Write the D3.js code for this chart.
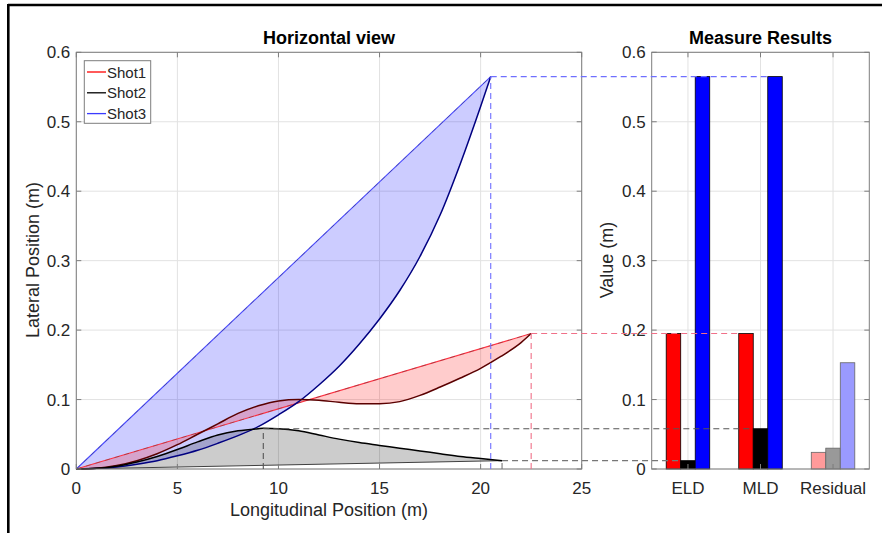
<!DOCTYPE html>
<html>
<head>
<meta charset="utf-8">
<script src="https://cdn.jsdelivr.net/npm/d3@7"></script>
<style>
  html, body { margin: 0; padding: 0; background: #fff; }
  svg { display: block; font-family: "Liberation Sans", Arial, Helvetica, sans-serif; }
</style>
</head>
<body>
<svg id="chart" width="882" height="533"></svg>
<script>
// Trajectories seen from above: longitudinal position (m) vs lateral position (m)
const shot1X = [0, 1, 2, 3, 4, 5, 6, 7, 8, 9, 10, 11, 12, 13, 14, 15, 16, 17, 18, 19, 20, 21, 22, 22.5];
const shot1Y = [0, 0.001, 0.005, 0.012, 0.022, 0.035, 0.050, 0.065, 0.080, 0.091, 0.098, 0.100, 0.099, 0.096, 0.094, 0.094, 0.097, 0.106, 0.118, 0.131, 0.145, 0.162, 0.182, 0.195];

const shot2X = [0, 1, 2, 3, 4, 5, 6, 7, 8, 9, 9.25, 10, 11, 12, 13, 14, 15, 16, 17, 18, 19, 20, 21.06];
const shot2Y = [0, 0.001, 0.004, 0.010, 0.018, 0.028, 0.039, 0.049, 0.055, 0.058, 0.0585, 0.058, 0.055, 0.049, 0.043, 0.038, 0.034, 0.030, 0.026, 0.022, 0.018, 0.015, 0.012];

const shot3X = [0, 1, 2, 3, 4, 5, 6, 7, 8, 9, 10, 11, 12, 13, 14, 15, 16, 17, 18, 19, 20, 20.5];
const shot3Y = [0, 0.001, 0.003, 0.007, 0.012, 0.019, 0.027, 0.037, 0.048, 0.061, 0.078, 0.097, 0.121, 0.148, 0.180, 0.216, 0.257, 0.306, 0.366, 0.440, 0.522, 0.565];

// Measure results per category: [Shot1, Shot2, Shot3]
const categories = ["ELD", "MLD", "Residual"];
const eldValues = [0.195, 0.012, 0.565];
const mldValues = [0.195, 0.058, 0.565];
const residualValues = [0.024, 0.030, 0.153];

const seriesNames = ["Shot1", "Shot2", "Shot3"];
const xTicks = [0, 5, 10, 15, 20, 25];
const yTicks = [0, 0.1, 0.2, 0.3, 0.4, 0.5, 0.6];

const svg = d3.select("#chart");
const FONT = 17;

// frame
svg.append("line").attr("x1", 8).attr("y1", 5).attr("x2", 882).attr("y2", 5)
  .attr("stroke", "#000").attr("stroke-width", 2.6);
svg.append("line").attr("x1", 8.3).attr("y1", 4).attr("x2", 8.3).attr("y2", 533)
  .attr("stroke", "#000").attr("stroke-width", 2.6);

// scales
const xL = d3.scaleLinear().domain([0, 25]).range([76.3, 581.7]);
const yS = d3.scaleLinear().domain([0, 0.6]).range([469, 52.3]);
const xR = d3.scaleLinear().domain([0.5, 3.5]).range([651.7, 869.3]);

const gridColor = "#e2e2e2";
const boxColor = "#7d7d7d";
const textColor = "#262626";
const TICK = 5;

function drawGrid(g, xs, xt, ys) {
  g.selectAll(".gx").data(xt).join("line")
    .attr("x1", d => xs(d)).attr("x2", d => xs(d))
    .attr("y1", ys.range()[0]).attr("y2", ys.range()[1])
    .attr("stroke", gridColor).attr("stroke-width", 1);
  g.selectAll(".gy").data(yTicks).join("line")
    .attr("x1", xs.range()[0]).attr("x2", xs.range()[1])
    .attr("y1", d => ys(d)).attr("y2", d => ys(d))
    .attr("stroke", gridColor).attr("stroke-width", 1);
}

function drawBox(g, xs, xt, xfmt) {
  const [x0, x1] = xs.range();
  const [y0, y1] = yS.range();
  g.append("rect").attr("x", x0).attr("y", y1).attr("width", x1 - x0).attr("height", y0 - y1)
    .attr("fill", "none").attr("stroke", boxColor).attr("stroke-width", 1);
  // ticks inward on all four sides
  xt.forEach(t => {
    const x = xs(t);
    g.append("line").attr("x1", x).attr("x2", x).attr("y1", y0).attr("y2", y0 - TICK).attr("stroke", boxColor);
    g.append("line").attr("x1", x).attr("x2", x).attr("y1", y1).attr("y2", y1 + TICK).attr("stroke", boxColor);
  });
  yTicks.forEach(t => {
    const y = yS(t);
    g.append("line").attr("x1", x0).attr("x2", x0 + TICK).attr("y1", y).attr("y2", y).attr("stroke", boxColor);
    g.append("line").attr("x1", x1).attr("x2", x1 - TICK).attr("y1", y).attr("y2", y).attr("stroke", boxColor);
  });
  g.selectAll(".xl").data(xt).join("text")
    .attr("x", d => xs(d)).attr("y", y0 + 25)
    .attr("text-anchor", "middle").attr("font-size", FONT).attr("fill", textColor)
    .text(xfmt);
  g.selectAll(".yl").data(yTicks).join("text")
    .attr("x", x0 - 6).attr("y", d => yS(d) + 6)
    .attr("text-anchor", "end").attr("font-size", FONT).attr("fill", textColor)
    .text(d => d === 0 ? "0" : d3.format(".1f")(d));
}

// ---------- left panel: horizontal view ----------
const left = svg.append("g");
drawGrid(left, xL, xTicks, yS);

function pts(xs, ys) { return xs.map((x, i) => [x, ys[i]]); }
const s1 = pts(shot1X, shot1Y), s2 = pts(shot2X, shot2Y), s3 = pts(shot3X, shot3Y);

function chordFn(p) {
  const e = p[p.length - 1];
  return x => e[1] * x / e[0];
}

const area = (p) => {
  const c = chordFn(p);
  return d3.area().curve(d3.curveMonotoneX)
    .x(d => xL(d[0])).y0(d => yS(c(d[0]))).y1(d => yS(d[1]))(p);
};
const line = d3.line().curve(d3.curveMonotoneX).x(d => xL(d[0])).y(d => yS(d[1]));

// filled deviation regions between each path and its straight chord
left.append("path").attr("d", area(s3)).attr("fill", "#0000ff").attr("fill-opacity", 0.2);
left.append("path").attr("d", area(s1)).attr("fill", "#ff0000").attr("fill-opacity", 0.2);
left.append("path").attr("d", area(s2)).attr("fill", "#000000").attr("fill-opacity", 0.2);

// chords
function chord(p, color) {
  const e = p[p.length - 1];
  left.append("line").attr("x1", xL(0)).attr("y1", yS(0)).attr("x2", xL(e[0])).attr("y2", yS(e[1]))
    .attr("stroke", color).attr("stroke-width", 1.1);
  left.append("line").attr("x1", xL(0)).attr("y1", yS(0)).attr("x2", xL(e[0])).attr("y2", yS(e[1]))
    .attr("stroke", "#333").attr("stroke-width", 0.7).attr("stroke-opacity", 0.5)
    .attr("stroke-dasharray", "5,5");
}
chord(s3, "#4a4aff");
chord(s1, "#ff3040");
left.append("line").attr("x1", xL(0)).attr("y1", yS(0))
  .attr("x2", xL(shot2X[shot2X.length - 1])).attr("y2", yS(shot2Y[shot2Y.length - 1]))
  .attr("stroke", "#404040").attr("stroke-width", 1);

// trajectories
left.append("path").attr("d", line(s3)).attr("fill", "none").attr("stroke", "#000080").attr("stroke-width", 1.5);
left.append("path").attr("d", line(s1)).attr("fill", "none").attr("stroke", "#5a0000").attr("stroke-width", 1.5);
left.append("path").attr("d", line(s2)).attr("fill", "none").attr("stroke", "#000").attr("stroke-width", 1.5);

drawBox(left, xL, xTicks, d => d);

// titles and axis labels
svg.append("text").attr("x", (xL.range()[0] + xL.range()[1]) / 2).attr("y", 44)
  .attr("text-anchor", "middle").attr("font-size", 18).attr("font-weight", "bold").attr("fill", "#000")
  .text("Horizontal view");
svg.append("text").attr("x", (xL.range()[0] + xL.range()[1]) / 2).attr("y", 516)
  .attr("text-anchor", "middle").attr("font-size", 18).attr("fill", textColor)
  .text("Longitudinal Position (m)");
svg.append("text").attr("transform", "translate(39,260) rotate(-90)")
  .attr("text-anchor", "middle").attr("font-size", 18).attr("fill", textColor)
  .text("Lateral Position (m)");

// legend
const lg = svg.append("g");
lg.append("rect").attr("x", 84.3).attr("y", 60.7).attr("width", 66.4).attr("height", 62.6)
  .attr("fill", "#fff").attr("stroke", "#7d7d7d").attr("stroke-width", 1);
const legendColors = ["#ff0000", "#000000", "#3b3bff"];
seriesNames.forEach((n, i) => {
  const y = 72 + i * 20.8;
  lg.append("line").attr("x1", 87).attr("x2", 106).attr("y1", y).attr("y2", y)
    .attr("stroke", legendColors[i]).attr("stroke-width", 1.3);
  lg.append("text").attr("x", 107).attr("y", y + 5.5).attr("font-size", 15).attr("fill", textColor).text(n);
});

// ---------- right panel: measure results ----------
const right = svg.append("g");
drawGrid(right, xR, [1, 2, 3], yS);

const groups = [eldValues, mldValues, residualValues];
const barW = 0.2;
const offsets = [-0.2, 0, 0.2];
const barFill = [
  ["#ff0000", "#000000", "#0000ff"],
  ["#ff0000", "#000000", "#0000ff"],
  ["#ff9a9a", "#999999", "#9a9aff"]
];
const barEdge = ["#000", "#000", "#666"];

groups.forEach((vals, gi) => {
  vals.forEach((v, si) => {
    const cx = gi + 1 + offsets[si];
    right.append("rect")
      .attr("x", xR(cx - barW / 2)).attr("width", xR(cx + barW / 2) - xR(cx - barW / 2))
      .attr("y", yS(v)).attr("height", yS(0) - yS(v))
      .attr("fill", barFill[gi][si]).attr("stroke", barEdge[gi]).attr("stroke-width", 0.8);
  });
});

drawBox(right, xR, [1, 2, 3], d => categories[d - 1]);
svg.append("text").attr("x", (xR.range()[0] + xR.range()[1]) / 2).attr("y", 44)
  .attr("text-anchor", "middle").attr("font-size", 18).attr("font-weight", "bold").attr("fill", "#000")
  .text("Measure Results");
svg.append("text").attr("transform", "translate(613,260) rotate(-90)")
  .attr("text-anchor", "middle").attr("font-size", 18).attr("fill", textColor)
  .text("Value (m)");

// ---------- guide lines linking trajectory points to bars ----------
const guides = svg.append("g").attr("fill", "none").attr("stroke-dasharray", "6,4").attr("stroke-width", 1.1);
function guide(px, py, cat, si, color) {
  const xEnd = xR(cat + offsets[si] - barW / 2);
  guides.append("line").attr("x1", xL(px)).attr("x2", xL(px)).attr("y1", yS(0)).attr("y2", yS(py)).attr("stroke", color);
  guides.append("line").attr("x1", xL(px)).attr("x2", xEnd).attr("y1", yS(py)).attr("y2", yS(py)).attr("stroke", color);
}
const i2max = shot2Y.indexOf(d3.max(shot2Y));
guide(shot3X[shot3X.length - 1], mldValues[2], 2, 2, "#6f6fff");
guide(shot1X[shot1X.length - 1], mldValues[0], 2, 0, "#f07088");
guide(shot2X[i2max], mldValues[1], 2, 1, "#555555");
guide(shot2X[shot2X.length - 1], eldValues[1], 1, 1, "#777777");
</script>
</body>
</html>
